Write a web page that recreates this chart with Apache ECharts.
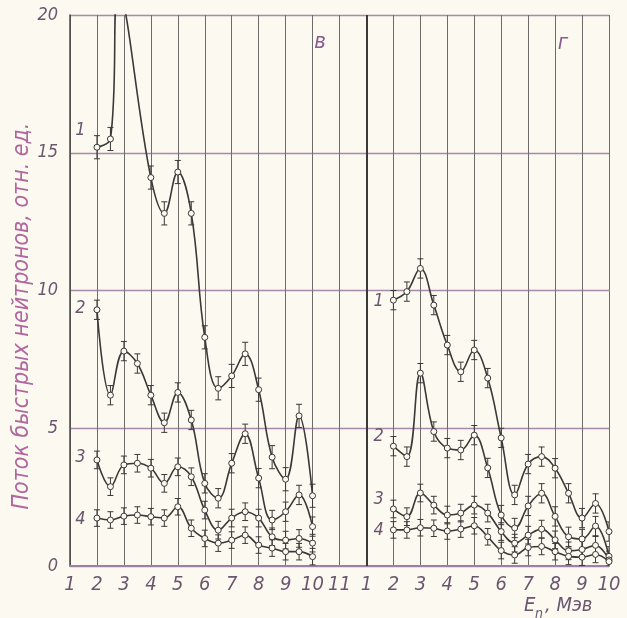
<!DOCTYPE html>
<html><head><meta charset="utf-8">
<script src="https://cdn.jsdelivr.net/npm/echarts@6/dist/echarts.min.js"></script>
<style>html,body{margin:0;padding:0;background:#fcfaf0;} #c{width:627px;height:618px;}</style>
</head><body><div id="c"></div>
<script>
// Energies (MeV) within each panel
const energies = [2, 2.5, 3, 3.5, 4, 4.5, 5, 5.5, 6, 6.5, 7, 7.5, 8, 8.5, 9, 9.5, 10];
// Curve 1 of panel "в": its peak runs off the top of the chart (estimated at 2.8 MeV)
const energiesV1 = [2, 2.5, 2.8, 4, 4.5, 5, 5.5, 6, 6.5, 7, 7.5, 8, 8.5, 9, 9.5, 10];

// Panel "в"
const v1 = [15.2, 15.5, 20.8, 14.1, 12.8, 14.3, 12.8, 8.3, 6.45, 6.9, 7.7, 6.4, 3.95, 3.15, 5.45, 2.55];
const v2 = [9.3, 6.2, 7.8, 7.35, 6.2, 5.2, 6.3, 5.3, 3.0, 2.46, 3.73, 4.8, 3.19, 1.67, 1.97, 2.58, 1.43];
const v3 = [3.85, 2.88, 3.67, 3.73, 3.55, 3.0, 3.6, 3.24, 2.03, 1.3, 1.74, 1.97, 1.74, 1.06, 0.94, 1.0, 0.83];
const v4 = [1.74, 1.67, 1.81, 1.85, 1.79, 1.74, 2.15, 1.37, 1.0, 0.83, 0.94, 1.12, 0.76, 0.65, 0.52, 0.52, 0.34];

// Panel "г"
const g1 = [9.65, 9.96, 10.8, 9.47, 8.02, 7.05, 7.84, 6.82, 4.65, 2.58, 3.7, 3.97, 3.55, 2.64, 1.74, 2.27, 1.25];
const g2 = [4.35, 3.97, 7.0, 4.88, 4.28, 4.21, 4.75, 3.56, 1.85, 1.38, 2.18, 2.64, 1.8, 1.06, 0.98, 1.45, 0.35];
const g3 = [2.07, 1.79, 2.65, 2.21, 1.85, 1.92, 2.21, 1.92, 1.25, 0.83, 1.12, 1.34, 0.95, 0.55, 0.6, 0.75, 0.22];
const g4 = [1.31, 1.31, 1.39, 1.37, 1.27, 1.34, 1.46, 1.06, 0.56, 0.40, 0.67, 0.71, 0.52, 0.35, 0.32, 0.42, 0.16];

// Error bar half-widths for curves 1..4
const errV = [0.42, 0.35, 0.32, 0.3];
const errG = [0.35, 0.35, 0.32, 0.3];

const xTicksLeft = [1,2,3,4,5,6,7,8,9,10,11];
const xTicksRight = [1,2,3,4,5,6,7,8,9,10];
const yTicks = [0, 5, 10, 15, 20];
const panelShift = 11; // panel "г" starts where panel "в" reaches 12
const curveNames = ['1', '2', '3', '4'];

const FONT = "'DejaVu Sans', 'Liberation Sans', sans-serif";
const STRETCH = 'condensed';
const INK = '#3a3838';
const TXT = '#6b5670';

const chart = echarts.init(document.getElementById('c'), null, {renderer: 'canvas'});

function renderErr(params, api) {
  const x = api.value(0), y = api.value(1), e = api.value(2);
  const t = api.coord([x, y + e]), b = api.coord([x, y - e]);
  const w = 3;
  const st = {stroke: INK, lineWidth: 1};
  return {type: 'group', children: [
    {type: 'line', shape: {x1: t[0], y1: t[1], x2: b[0], y2: b[1]}, style: st},
    {type: 'line', shape: {x1: t[0] - w, y1: t[1], x2: t[0] + w, y2: t[1]}, style: st},
    {type: 'line', shape: {x1: b[0] - w, y1: b[1], x2: b[0] + w, y2: b[1]}, style: st}
  ]};
}

const labelOffsets = {
  'в1': {position: 'left', distance: 8, offset: [0, -17]},
  'в2': {position: 'left', distance: 8, offset: [0, -1]},
  'в3': {position: 'left', distance: 8, offset: [0, -3]},
  'в4': {position: 'left', distance: 8, offset: [0, 1]},
  'г1': {position: 'left', distance: 6, offset: [0, 1]},
  'г2': {position: 'left', distance: 6, offset: [0, -10]},
  'г3': {position: 'left', distance: 6, offset: [0, -10]}
};

const series = [];
function addCurve(panel, idx, xs, ys, shift, err) {
  const key = panel + curveNames[idx];
  const lo = labelOffsets[key] || {position: 'left', distance: 6, offset: [0, 0]};
  const data = xs.map((x, i) => {
    const item = {value: [x + shift, ys[i]]};
    if (i === 0) {
      item.label = Object.assign({
        show: true, formatter: curveNames[idx], color: TXT,
        fontSize: 18, fontStyle: 'italic', fontWeight: STRETCH, fontFamily: FONT
      }, lo);
    }
    if (ys[i] > 20) item.symbol = 'none';
    return item;
  });
  series.push({
    type: 'line', name: key, data: data, smooth: 0.4, z: 5,
    symbol: 'circle', symbolSize: 6,
    itemStyle: {color: '#fcfaf0', borderColor: INK, borderWidth: 1},
    lineStyle: {color: INK, width: 1.6},
    clip: true, animation: false
  });
  series.push({
    type: 'custom', z: 4, clip: true, animation: false, silent: true,
    renderItem: renderErr,
    data: xs.map((x, i) => [x + shift, ys[i], err]).filter(d => d[1] <= 20)
  });
}

addCurve('в', 0, energiesV1, v1, 0, errV[0]);
addCurve('в', 1, energies, v2, 0, errV[1]);
addCurve('в', 2, energies, v3, 0, errV[2]);
addCurve('в', 3, energies, v4, 0, errV[3]);
addCurve('г', 0, energies, g1, panelShift, errG[0]);
addCurve('г', 1, energies, g2, panelShift, errG[1]);
addCurve('г', 2, energies, g3, panelShift, errG[2]);
addCurve('г', 3, energies, g4, panelShift, errG[3]);

// panel divider
series[0].markLine = {
  silent: true, symbol: 'none', label: {show: false}, animation: false,
  lineStyle: {color: '#3a3838', width: 2, type: 'solid'},
  data: [{xAxis: 1 + panelShift}]
};

const xMin = xTicksLeft[0];
const xMax = xTicksRight[xTicksRight.length - 1] + panelShift;

chart.setOption({
  backgroundColor: '#fcfaf0',
  animation: false,
  grid: {left: 70, right: 18, top: 15, bottom: 52, containLabel: false},
  xAxis: {
    type: 'value', min: xMin, max: xMax, interval: 1,
    axisLine: {show: true, lineStyle: {color: '#9f7fa3', width: 2}},
    axisTick: {show: false},
    splitLine: {show: true, lineStyle: {color: '#6e6c6a', width: 1}},
    axisLabel: {
      margin: 9, color: TXT, fontSize: 20, fontStyle: 'italic', fontWeight: STRETCH, fontFamily: FONT,
      showMaxLabel: true, showMinLabel: true,
      formatter: v => (v <= xTicksLeft[xTicksLeft.length - 1] ? String(v) : String(v - panelShift))
    }
  },
  yAxis: {
    type: 'value', min: yTicks[0], max: yTicks[yTicks.length - 1], interval: 5,
    axisLine: {show: true, lineStyle: {color: '#4a4846', width: 1.5}},
    axisTick: {show: false},
    splitLine: {show: true, lineStyle: {color: '#a889aa', width: 1.4}},
    axisLabel: {margin: 12, color: TXT, fontSize: 18, fontStyle: 'italic', fontWeight: STRETCH, fontFamily: FONT}
  },
  graphic: [
    {type: 'text', x: 22, y: 316, rotation: Math.PI / 2,
     style: {text: 'Поток быстрых нейтронов, отн. ед.', fill: '#b0669f',
             font: 'italic condensed 23px ' + FONT, textAlign: 'center', textVerticalAlign: 'middle'}},
    {type: 'text', x: 320, y: 42,
     style: {text: 'в', fill: '#8a5a90', font: 'italic condensed 22px ' + FONT, textAlign: 'center', textVerticalAlign: 'middle'}},
    {type: 'text', x: 563, y: 43,
     style: {text: 'г', fill: '#8a5a90', font: 'italic condensed 22px ' + FONT, textAlign: 'center', textVerticalAlign: 'middle'}},
    {type: 'text', x: 524, y: 606,
     style: {text: 'E', fill: TXT, font: 'italic condensed 20px ' + FONT, textAlign: 'left', textVerticalAlign: 'middle'}},
    {type: 'text', x: 535, y: 614,
     style: {text: 'n', fill: TXT, font: 'italic condensed 14px ' + FONT, textAlign: 'left', textVerticalAlign: 'middle'}},
    {type: 'text', x: 545, y: 606,
     style: {text: ', Мэв', fill: TXT, font: 'italic condensed 20px ' + FONT, textAlign: 'left', textVerticalAlign: 'middle'}}
  ],
  series: series
});
</script></body></html>
